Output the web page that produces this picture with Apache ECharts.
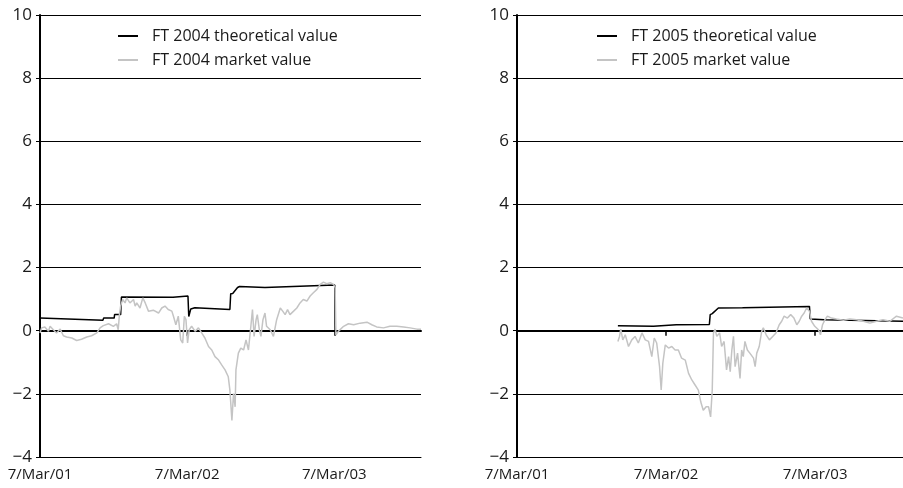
<!DOCTYPE html>
<html lang="en">

<head>
    <meta charset="utf-8">
    <title>FT theoretical vs market value</title>
    <script type="text/javascript" src="https://cdn.jsdelivr.net/npm/echarts@6/dist/echarts.min.js"></script>
    <style>
        html, body { margin: 0; padding: 0; background: #fff; }
        #chart { width: 903px; height: 488px; }
    </style>
</head>

<body>
    <div id="chart"></div>

    <script>
        // x values are days counted from 7 Mar 2001
        const tickDays = [0, 365, 730];
        const tickLabels = ['7/Mar/01', '7/Mar/02', '7/Mar/03'];
        const xMax = 945;

        // FT 2004
        const theo04Days = [0, 156, 158, 184, 185, 200, 202, 330, 333, 367, 369, 374, 384, 471, 473, 478, 490, 495, 558, 731, 732, 945];
        const theo04Vals = [0.40, 0.33, 0.40, 0.40, 0.51, 0.51, 1.07, 1.06, 1.10, 1.10, 0.45, 0.69, 0.73, 0.67, 1.17, 1.18, 1.37, 1.40, 1.37, 1.45, 0, 0];
        const mkt04Days = [0, 4, 12, 21, 25, 33, 41, 50, 58, 66, 79, 91, 103, 116, 128, 141, 149, 157, 170, 182,
            190, 194, 197, 200, 205, 211, 215, 223, 232, 236, 240, 248, 255, 261, 269, 281, 294, 302, 310, 318,
            327, 331, 337, 343, 349, 354, 358, 362, 366, 370, 376, 385, 393, 401, 409, 418, 426, 434, 443, 451,
            459, 467, 471, 476, 480, 484, 486, 492, 498, 505, 511, 517, 523, 527, 531, 536, 539, 544, 548, 553,
            558, 562, 571, 579, 587, 596, 602, 608, 614, 620, 629, 637, 645, 653, 662, 670, 678, 687, 695, 703,
            711, 720, 728, 732, 734, 740, 744, 753, 765, 778, 794, 811, 823, 835, 852, 868, 885, 902, 918, 935, 945];
        const mkt04Vals = [-0.07, 0.09, 0.12, -0.02, 0.14, 0.03, -0.07, 0.05, -0.16, -0.20, -0.23, -0.31, -0.27, -0.20, -0.16, -0.07, 0.09, 0.16, 0.22, 0.14,
            0.22, 0.03, 0.51, 0.78, 0.99, 0.88, 1.04, 0.88, 0.99, 0.78, 0.88, 0.72, 1.04, 0.88, 0.62, 0.65, 0.56, 0.72, 0.78, 0.67,
            0.62, 0.46, 0.19, 0.46, -0.29, -0.39, 0.46, 0.35, -0.39, 0.03, 0.14, -0.02, 0.09, -0.07, -0.23, -0.50, -0.61, -0.82, -0.93, -1.09,
            -1.24, -1.46, -1.88, -2.84, -1.99, -2.41, -1.24, -0.71, -0.55, -0.61, -0.29, -0.61, 0.14, 0.67, -0.18, 0.35, 0.51, 0.03, -0.18, 0.35,
            0.56, 0.14, 0.03, -0.18, 0.35, 0.72, 0.62, 0.51, 0.67, 0.51, 0.62, 0.72, 0.88, 0.99, 0.94, 1.10, 1.20, 1.31, 1.47, 1.54,
            1.49, 1.52, 1.47, 1.36, -0.13, -0.02, 0.03, 0.14, 0.22, 0.19, 0.24, 0.27, 0.19, 0.12, 0.09, 0.14, 0.14, 0.12, 0.09, 0.05, 0.05];

        // FT 2005
        const theo05Days = [247, 334, 336, 390, 391, 471, 473, 478, 493, 496, 552, 716, 718, 752, 756, 945];
        const theo05Vals = [0.16, 0.14, 0.18, 0.19, 0.23, 0.20, 0.51, 0.54, 0.72, 0.76, 0.73, 0.77, 0.37, 0.35, 0.31, 0.30];
        const mkt05Days = [247, 251, 254, 259, 265, 273, 281, 289, 297, 306, 314, 322, 330, 336, 342, 349, 353, 357, 363, 371,
            379, 387, 395, 403, 412, 420, 428, 436, 444, 450, 456, 463, 469, 474, 478, 481, 485, 489, 496, 501,
            507, 513, 518, 522, 526, 530, 534, 540, 546, 550, 554, 558, 564, 570, 579, 583, 587, 593, 599, 603,
            610, 618, 626, 634, 642, 648, 654, 662, 670, 678, 685, 691, 697, 703, 709, 716, 721, 729, 738, 743,
            748, 754, 760, 770, 782, 799, 815, 831, 848, 864, 880, 896, 913, 929, 945];
        const mkt05Vals = [-0.34, -0.18, 0.05, -0.29, -0.13, -0.50, -0.29, -0.18, -0.39, -0.07, -0.29, -0.34, -0.82, -0.23, -0.39, -1.14, -1.88, -1.03, -0.45, -0.55,
            -0.50, -0.61, -0.61, -0.87, -0.93, -1.35, -1.56, -1.72, -1.88, -2.26, -2.52, -2.41, -2.41, -2.73, -1.88, -0.07, 0.05, -0.18, -0.07, -0.50,
            -0.34, -1.24, -0.82, -1.30, -0.61, -0.18, -1.14, -0.71, -1.51, -0.61, -0.82, -0.34, -0.61, -0.71, -0.87, -1.14, -0.71, -0.50, -0.02, 0.09,
            -0.13, -0.29, -0.18, -0.07, 0.19, 0.30, 0.46, 0.40, 0.51, 0.40, 0.19, 0.30, 0.46, 0.56, 0.72, 0.62, 0.30, 0.14, 0.03, -0.13,
            0.19, 0.35, 0.46, 0.40, 0.37, 0.33, 0.37, 0.35, 0.30, 0.24, 0.30, 0.35, 0.30, 0.46, 0.40];

        const yTicks = [-4, -2, 0, 2, 4, 6, 8, 10];

        const FONT = 'Open Sans';
        const TEXT = '#1a1a1a';
        const THEO = '#000000';
        const MKT = '#c4c4c4';

        function pairs(days, vals) {
            return days.map(function (d, i) { return [d, vals[i]]; });
        }

        function dayLabel(v) {
            const i = tickDays.indexOf(v);
            return i >= 0 ? tickLabels[i] : '';
        }

        function yLabel(v) {
            return v < 0 ? '\u2212' + Math.abs(v) : String(v);
        }

        function makeAxes(gridIndex) {
            const xAxes = [{
                // bottom axis carrying the date labels
                type: 'value', gridIndex: gridIndex, position: 'bottom',
                min: 0, max: xMax,
                axisLine: { onZero: false, lineStyle: { color: '#000', width: 1 } },
                axisTick: { show: false },
                splitLine: { show: false },
                axisLabel: {
                    customValues: tickDays, formatter: dayLabel, margin: 10,
                    color: TEXT, fontFamily: FONT, fontSize: 15
                }
            }, {
                // zero line with the year ticks
                type: 'value', gridIndex: gridIndex, position: 'bottom',
                min: 0, max: xMax,
                axisLine: { onZero: true, lineStyle: { color: '#000', width: 2 } },
                axisTick: { customValues: tickDays.slice(1), length: 5, lineStyle: { color: '#000', width: 1.5 } },
                axisLabel: { show: false },
                splitLine: { show: false }
            }];
            const yAxis = {
                type: 'value', gridIndex: gridIndex,
                min: -4, max: 10,
                axisLine: { show: true, lineStyle: { color: '#000', width: 2 } },
                axisTick: { show: true, customValues: yTicks, length: 4, lineStyle: { color: '#000', width: 1 } },
                axisLabel: {
                    customValues: yTicks, formatter: yLabel, margin: 8,
                    color: TEXT, fontFamily: FONT, fontSize: 17
                },
                splitLine: { show: true, lineStyle: { color: '#000', width: 1 } }
            };
            return { xAxes: xAxes, yAxis: yAxis };
        }

        const a0 = makeAxes(0);
        const a1 = makeAxes(1);

        function legendFor(left, names) {
            return {
                orient: 'vertical', left: left, top: 23,
                icon: 'rect', itemWidth: 20, itemHeight: 2, itemGap: 8,
                textStyle: { color: TEXT, fontFamily: FONT, fontSize: 16, padding: [0, 0, 0, 9] },
                data: names
            };
        }

        function lineSeries(name, xIdx, yIdx, color, data, z) {
            return {
                name: name, type: 'line', xAxisIndex: xIdx, yAxisIndex: yIdx,
                data: data, showSymbol: false, symbol: 'none', animation: false,
                lineStyle: { color: color, width: 1.5 }, itemStyle: { color: color }, z: z
            };
        }

        const chart = echarts.init(document.getElementById('chart'), null, { renderer: 'canvas' });

        chart.setOption({
            animation: false,
            backgroundColor: '#fff',
            textStyle: { fontFamily: FONT },
            grid: [
                { left: 40, right: 482, top: 15, bottom: 31 },
                { left: 517, right: 0, top: 15, bottom: 31 }
            ],
            legend: [
                legendFor(113, ['FT 2004 theoretical value', 'FT 2004 market value']),
                legendFor(592, ['FT 2005 theoretical value', 'FT 2005 market value'])
            ],
            xAxis: a0.xAxes.concat(a1.xAxes),
            yAxis: [a0.yAxis, a1.yAxis],
            series: [
                lineSeries('FT 2004 theoretical value', 0, 0, THEO, pairs(theo04Days, theo04Vals), 3),
                lineSeries('FT 2004 market value', 0, 0, MKT, pairs(mkt04Days, mkt04Vals), 4),
                lineSeries('FT 2005 theoretical value', 2, 1, THEO, pairs(theo05Days, theo05Vals), 3),
                lineSeries('FT 2005 market value', 2, 1, MKT, pairs(mkt05Days, mkt05Vals), 4)
            ]
        });
    </script>
</body>

</html>
